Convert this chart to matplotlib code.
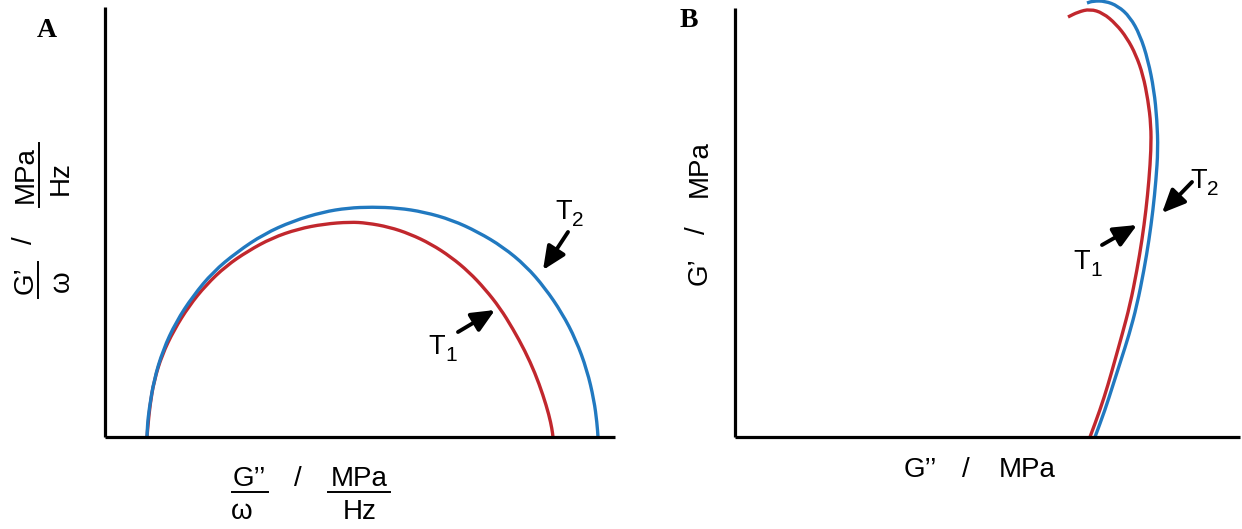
import matplotlib
matplotlib.use("Agg")
import matplotlib.pyplot as plt
from matplotlib.lines import Line2D
from matplotlib.path import Path
from matplotlib.patches import PathPatch, FancyArrowPatch

W, H = 1242, 529

# ---------------- data (arbitrary units) ----------------
# Panel A: Cole-Cole type arcs  (G''/omega  vs  G'/omega)
a_t1_x = [42, 43, 45, 49, 57, 69, 84, 101, 121, 143, 167, 193, 219, 245, 262, 284, 305, 326, 346, 364, 380, 395, 408, 420, 430, 438, 444, 447, 448]
a_t1_y = [0, 12, 32, 56, 82, 107, 131, 152, 171, 186, 199, 208, 213, 215, 214, 210, 203, 193, 180, 165, 148, 129, 108, 86, 64, 42, 22, 8, 0]
a_t2_x = [42, 42.5, 44, 49, 58, 71, 88, 108, 132, 159, 188, 218, 243, 267, 293, 319, 347, 373, 398, 421, 440, 457, 471, 482, 489, 492, 493]
a_t2_y = [0, 12, 27, 57, 87, 115, 141, 165, 185, 203, 216, 225, 229, 230, 229, 225, 217, 205, 190, 171, 149, 124, 97, 67, 37, 14, 0]

# Panel B: G'' vs G'
b_t1_x = [355, 365, 373, 380, 387, 395, 402, 407, 411, 414, 416, 416, 413, 408, 401, 392, 381, 368, 355, 343, 333]
b_t1_y = [0, 27, 52, 77, 102, 132, 167, 197, 227, 257, 287, 312, 337, 362, 382, 399, 413, 424, 428, 425, 420]
b_t2_x = [360, 370, 378, 386, 394, 402, 409, 414, 418, 421, 423, 422, 419, 413, 405, 395, 383, 370, 358, 352]
b_t2_y = [0, 27, 52, 77, 102, 132, 167, 197, 227, 257, 287, 317, 347, 377, 402, 420, 431, 436, 436, 434]

panel_labels = ["A", "B"]
series_labels = ["T", "1", "2"]

RED = "#C1272D"
BLUE = "#2179C0"
FONT = "Liberation Sans"

fig = plt.figure(figsize=(W / 100, H / 100), dpi=100)


def F(px, py):
    return px / W, 1 - py / H


def make_axes(x0, x1, ytop_axis):
    ax = fig.add_axes([x0 / W, (H - 437) / H, (x1 - x0) / W, 437 / H])
    ax.set_xlim(0, x1 - x0)
    ax.set_ylim(0, 437)
    for s in ["top", "right"]:
        ax.spines[s].set_visible(False)
    for s in ["left", "bottom"]:
        ax.spines[s].set_linewidth(2.3)
        ax.spines[s].set_color("black")
        ax.spines[s].set_capstyle("butt")
    ax.spines["left"].set_bounds(0, 437 - ytop_axis)
    ax.set_xticks([])
    ax.set_yticks([])
    ax.patch.set_alpha(0)
    return ax


def smooth_curve(ax, xs, ys, color, lw=2.4):
    # quadratic B-spline through midpoints (rendering only)
    pts = list(zip(xs, ys))
    verts = [pts[0]]
    codes = [Path.MOVETO]
    mids = [((pts[i][0] + pts[i + 1][0]) / 2, (pts[i][1] + pts[i + 1][1]) / 2)
            for i in range(len(pts) - 1)]
    verts.append(mids[0]); codes.append(Path.LINETO)
    for i in range(1, len(pts) - 1):
        verts += [pts[i], mids[i]]
        codes += [Path.CURVE3, Path.CURVE3]
    verts.append(pts[-1]); codes.append(Path.LINETO)
    ax.add_patch(PathPatch(Path(verts, codes), facecolor="none", edgecolor=color,
                           lw=lw, capstyle="butt", joinstyle="round"))


axA = make_axes(105, 615, 7)
axB = make_axes(735, 1240, 8)

smooth_curve(axA, a_t1_x, a_t1_y, RED)
smooth_curve(axA, a_t2_x, a_t2_y, BLUE)
smooth_curve(axB, b_t2_x, b_t2_y, BLUE)
smooth_curve(axB, b_t1_x, b_t1_y, RED)

# ---------------- panel letters ----------------
fig.text(*F(47, 37), panel_labels[0], family="Liberation Serif", weight="bold",
         fontsize=20, ha="center", va="baseline")
fig.text(*F(689, 27), panel_labels[1], family="Liberation Serif", weight="bold",
         fontsize=20, ha="center", va="baseline")

# ---------------- helpers ----------------
LS = 20


def txt(px, py, s, size=LS, rot=0, ha="center", va="center"):
    fig.text(*F(px, py), s, family=FONT, fontsize=size, rotation=rot,
             ha=ha, va=va, color="black")


def hline(x0, x1, y, lw_=1.4):
    fig.add_artist(Line2D([x0 / W, x1 / W], [1 - y / H] * 2, transform=fig.transFigure,
                          color="black", lw=lw_))


def vline(x, y0, y1, lw_=1.4):
    fig.add_artist(Line2D([x / W] * 2, [1 - y0 / H, 1 - y1 / H], transform=fig.transFigure,
                          color="black", lw=lw_))


# Panel A x label: G''/omega  /  MPa/Hz
txt(249, 479, "G\u2019\u2019")
hline(232, 268, 492)
txt(242, 512, "\u03c9")
txt(298, 479, "/")
txt(359, 479, "MPa")
hline(328, 390, 492)
txt(360, 512, "Hz")

# Panel A y label (rotated)
txt(26, 280, "G\u2019", rot=90)
vline(38, 262, 298)
txt(62, 281, "\u03c9", rot=90)
txt(25, 240, "/", rot=90)
txt(26, 175, "MPa", rot=90)
vline(39, 143, 207)
txt(61, 178, "Hz", rot=90)

# Panel B labels
txt(920, 470, "G\u2019\u2019")
txt(966, 470, "/")
txt(1027, 470, "MPa")
txt(700, 271, "G\u2019", rot=90)
txt(698, 230, "/", rot=90)
txt(700, 169, "MPa", rot=90)

# ---------------- T labels and arrows ----------------
TS, SS = 19.5, 15


def tlabel(px, py, sub):
    fig.text(*F(px, py), series_labels[0], family=FONT, fontsize=TS, ha="left", va="baseline")
    fig.text(*F(px + 17, py + 7), sub, family=FONT, fontsize=SS, ha="left", va="baseline")


def arrow(x0, y0, x1, y1):
    fig.add_artist(FancyArrowPatch(
        F(x0, y0), F(x1, y1), transform=fig.transFigure,
        arrowstyle="-|>,head_length=1.0,head_width=0.45", mutation_scale=14,
        lw=2.8, color="black", shrinkA=0, shrinkB=0))


tlabel(555, 219, series_labels[2])
arrow(568, 232, 543, 270)
tlabel(428, 354, series_labels[1])
arrow(458, 332, 495, 310)

tlabel(1190, 188, series_labels[2])
arrow(1192, 182, 1162, 213)
tlabel(1073, 269, series_labels[1])
arrow(1102, 245, 1137, 225)

fig.savefig("out.png", dpi=100)
